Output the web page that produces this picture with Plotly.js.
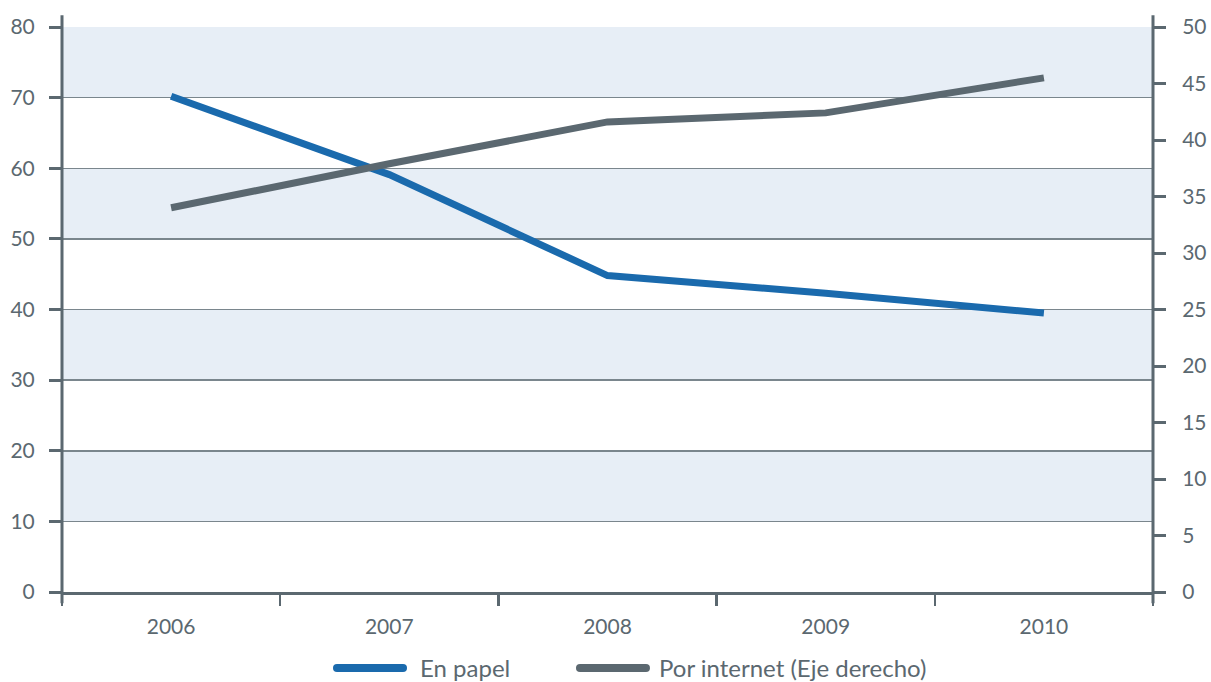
<!DOCTYPE html>
<html>
<head>
<meta charset="utf-8">
<script src="https://cdn.plot.ly/plotly-3.0.1.min.js"></script>
<style>html,body{margin:0;padding:0;background:#fff;}#chart{width:1211px;height:682px;}</style>
</head>
<body>
<div id="chart"></div>
<script>
const years = ['2006', '2007', '2008', '2009', '2010'];
const enPapel = [70.2, 59.1, 44.8, 42.3, 39.5];
const porInternet = [34.0, 37.9, 41.6, 42.4, 45.5];
const leftTicks = [0, 10, 20, 30, 40, 50, 60, 70, 80];
const rightTicks = [0, 5, 10, 15, 20, 25, 30, 35, 40, 45, 50];
const bandRanges = [[10, 20], [30, 40], [50, 60], [70, 80]];
const seriesNames = ['En papel', 'Por internet (Eje derecho)'];
const seriesColors = ['#1a6aad', '#5b6870'];

const axisCol = '#5b6870';
const textCol = '#5b6870';
const fontFam = 'Lato, "Open Sans", sans-serif';

const shapes = [];
bandRanges.forEach(b => shapes.push({type:'rect', xref:'paper', yref:'y', x0:0, x1:1, y0:b[0], y1:b[1], fillcolor:'#e7eef6', line:{width:0}, layer:'below'}));
// extended axis lines
shapes.push({type:'line', xref:'paper', yref:'paper', x0:0, x1:0, y0:-0.02, y1:1.021, line:{color:axisCol, width:3}});
shapes.push({type:'line', xref:'paper', yref:'paper', x0:1, x1:1, y0:-0.02, y1:1.021, line:{color:axisCol, width:3}});

// manual legend (capsule symbols + text)
const legY = -0.1345;
const legSymX = [0.2484, 0.4711];
const legTxtX = [0.3263, 0.5454];
const capsule = 'M4,4 L70,4 Q74,4 74,0 Q74,-4 70,-4 L4,-4 Q0,-4 0,0 Q0,4 4,4 Z';
const annotations = [];
seriesNames.forEach((n, i) => {
  shapes.push({type:'path', xref:'paper', yref:'paper', xsizemode:'pixel', ysizemode:'pixel',
    xanchor: legSymX[i], yanchor: legY, path: capsule, fillcolor: seriesColors[i], line:{width:0}});
  annotations.push({xref:'paper', yref:'paper', x: legTxtX[i], y: legY, xanchor:'left', yanchor:'middle',
    text: n, showarrow:false, font:{family: fontFam, size: 24, color: textCol}});
});

const traces = [
  {x: years, y: enPapel, name: seriesNames[0], type: 'scatter', mode: 'lines', line: {color: seriesColors[0], width: 7}, yaxis: 'y'},
  {x: years, y: porInternet, name: seriesNames[1], type: 'scatter', mode: 'lines', line: {color: seriesColors[1], width: 7}, yaxis: 'y2'}
];

const layout = {
  width: 1211, height: 682,
  margin: {l: 62, r: 58, t: 27, b: 90},
  paper_bgcolor: '#ffffff', plot_bgcolor: 'rgba(0,0,0,0)',
  font: {family: fontFam, color: textCol, size: 21},
  showlegend: false,
  xaxis: {
    type: 'category', tickson: 'boundaries', ticks: 'outside', ticklen: 11, tickwidth: 2.5, tickcolor: axisCol,
    showline: true, linecolor: axisCol, linewidth: 3, showgrid: false, zeroline: false, automargin: false,
    tickfont: {size: 21, color: textCol}, range: [-0.5, 4.5], ticklabelstandoff: 14
  },
  yaxis: {
    range: [0, 80], tickvals: leftTicks, ticks: 'outside', ticklen: 12, tickwidth: 3, tickcolor: axisCol,
    showline: false, showgrid: true, gridcolor: '#7a868d', gridwidth: 1.5, zeroline: false, automargin: false,
    tickfont: {size: 21, color: textCol}, ticklabelstandoff: 10
  },
  yaxis2: {
    range: [0, 50], tickvals: rightTicks, overlaying: 'y', side: 'right', ticks: 'outside', ticklen: 12, tickwidth: 3, tickcolor: axisCol,
    showline: false, showgrid: false, zeroline: false, automargin: false,
    tickfont: {size: 21, color: textCol}, ticklabelstandoff: 12
  },
  shapes: shapes,
  annotations: annotations
};

Plotly.newPlot('chart', traces, layout, {displayModeBar: false, staticPlot: true});
</script>
</body>
</html>
